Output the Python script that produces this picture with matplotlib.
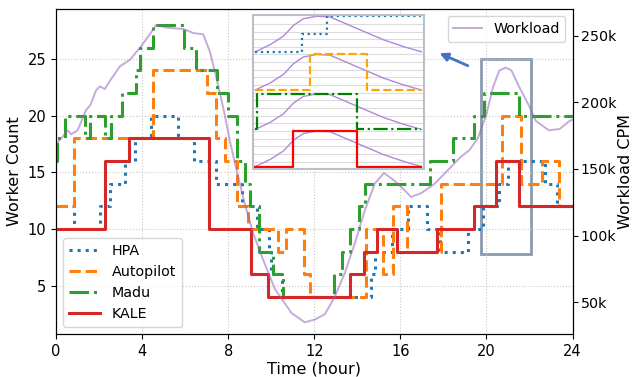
import matplotlib
matplotlib.use("Agg")
import matplotlib.pyplot as plt
import numpy as np
from matplotlib.ticker import FuncFormatter
from matplotlib.patches import Rectangle

# worker counts per method (step changes, hour -> workers)
hpa_t = [0, 0.85, 2.05, 2.5, 3.2, 3.65, 4.4, 5.65, 6.4, 7.45, 8.65, 9.35, 9.9, 10.0, 10.5,
         14.65, 14.8, 15.6, 16.35, 17.25, 17.85, 19.15, 19.85, 20.6, 21.0, 22.7, 23.3, 24]
hpa_v = [12, 10, 12, 14, 16, 18, 20, 18, 16, 14, 12, 10, 8, 6, 4,
         6, 8, 10, 12, 10, 8, 10, 12, 14, 16, 14, 12, 12]

auto_t = [0, 0.85, 4.5, 7.0, 7.45, 7.85, 8.4, 8.93, 10.3, 10.7, 11.5, 11.8, 14.4, 15.2,
          15.65, 16.3, 17.9, 20.7, 21.6, 22.6, 23.35, 24]
auto_v = [12, 18, 24, 22, 18, 16, 12, 10, 8, 10, 6, 4, 10, 6,
          12, 8, 14, 20, 14, 16, 12, 12]

madu_t = [0, 0.05, 0.42, 1.35, 1.6, 2.3, 2.55, 3.05, 3.7, 3.9, 4.5, 5.95, 6.5, 7.5, 7.97,
          8.4, 8.8, 9.0, 9.45, 10.1, 10.55, 12.9, 13.27, 13.65, 14.1, 14.35, 17.4, 18.45,
          19.4, 19.9, 21.5, 24]
madu_v = [16, 18, 20, 18, 20, 18, 20, 22, 24, 26, 28, 26, 24, 22, 20,
          16, 14, 12, 8, 6, 4, 6, 8, 10, 12, 14, 16, 18,
          20, 22, 20, 20]

kale_t = [0, 2.3, 3.4, 7.1, 9.05, 9.85, 13.65, 14.3, 14.9, 15.85, 17.7, 19.4, 20.45, 21.5, 24]
kale_v = [10, 16, 18, 10, 6, 4, 6, 8, 10, 8, 10, 12, 16, 12, 12]

# workload (calls per minute, thousands)
wl_t = [0, 0.3, 0.55, 0.7, 0.85, 1.0, 1.16, 1.39, 1.6, 1.86, 2.04, 2.27, 2.5, 2.97, 3.44,
        3.9, 4.36, 4.65, 5.14, 5.93, 6.37, 6.84, 7.15, 7.46, 7.77, 8.08, 8.39, 8.77, 9.16,
        9.62, 10.17, 10.94, 11.56, 12.02, 12.49, 12.95, 13.42, 13.88, 14.35, 14.81, 15.24,
        15.74, 16.2, 16.5, 16.98, 17.6, 18.2, 18.8, 19.2, 19.6, 20.0, 20.3, 20.6, 20.9,
        21.16, 21.54, 21.93, 22.3, 22.9, 23.4, 23.86, 24]
wl_k = [169, 174, 179, 176, 177.5, 179, 185, 194, 198, 209, 212, 210, 216, 227, 232,
        241, 251, 258, 256, 255, 252, 251, 238, 218, 196, 171, 149, 124, 102,
        82, 60, 42, 35, 37, 41, 54, 72, 94, 119, 139, 147,
        141, 134, 129, 132, 139, 149, 159, 164, 173, 191, 211, 224, 226,
        224, 211, 199, 186, 179, 180, 186, 187]

# inset: normalised zoom of one burst
inset_t = [0, 0.09, 0.17, 0.23, 0.29, 0.37, 0.45, 0.55, 0.67, 0.77, 0.89, 1.0]
inset_load = [0, 0.2, 0.44, 0.74, 0.93, 1.0, 0.98, 0.78, 0.54, 0.34, 0.15, 0]
in_hpa_t, in_hpa_v = [0, 0.28, 0.43, 1], [0, 0.5, 1, 1]
in_auto_t, in_auto_v = [0, 0.33, 0.67, 1], [0, 1, 0, 0]
in_madu_t, in_madu_v = [0, 0.01, 0.61, 1], [0, 1, 0, 0]
in_kale_t, in_kale_v = [0, 0.226, 0.61, 1], [0, 1, 0, 0]

fig = plt.figure(figsize=(6.32, 3.77), dpi=100)
ax = fig.add_axes([0.0886, 0.1133, 0.8173, 0.8628])

ax.step(hpa_t, hpa_v, where='post', color='tab:blue', ls=':', lw=2.2, label='HPA')
ax.step(auto_t, auto_v, where='post', color='tab:orange', ls='--', lw=2.2, label='Autopilot')
ax.step(madu_t, madu_v, where='post', color='tab:green', ls='-.', lw=2.2, label='Madu')
ax.step(kale_t, kale_v, where='post', color='tab:red', ls='-', lw=2.2, label='KALE')

ax.set_xlim(0, 24)
ax.set_ylim(0.7, 29.4)
ax.set_xticks(range(0, 25, 4))
ax.set_yticks([5, 10, 15, 20, 25])
ax.tick_params(labelsize=10.5)
ax.set_xlabel('Time (hour)', fontsize=11.5, labelpad=2)
ax.set_ylabel('Worker Count', fontsize=11.5)
ax.grid(True, ls=':', color='#c8c8c8', lw=0.8)
ax.legend(loc='lower left', fontsize=10.3, handlelength=2.2)

ax.add_patch(Rectangle((19.75, 7.8), 2.3, 17.2, fill=False, ec='#8a9bb0', lw=2))
ax.annotate('', xy=(17.7, 25.6), xytext=(19.25, 24.3),
            arrowprops=dict(arrowstyle='-|>', color='#4472c4', lw=2, mutation_scale=12))

ax2 = ax.twinx()
ax2.plot(wl_t, np.array(wl_k) * 1000, color='tab:purple', alpha=0.55, lw=1.4, label='Workload')
ax2.set_ylim(26000, 270000)
ax2.set_yticks([50000, 100000, 150000, 200000, 250000])
ax2.yaxis.set_major_formatter(FuncFormatter(lambda v, p: f'{int(v / 1000)}k'))
ax2.tick_params(labelsize=10.3, pad=2.5)
ax2.set_ylabel('Workload CPM', fontsize=11.5, labelpad=1)
ax2.legend(loc='upper right', fontsize=10.3)

# inset picture
axi = fig.add_axes([0.3998, 0.551, 0.271, 0.409])
axi.set_xlim(-0.015, 1.015)
axi.set_ylim(0, 4.03)
offsets = [3.07, 2.07, 1.04, 0.07]
amp = 0.93
steps = [(in_hpa_t, in_hpa_v, '#1f77b4', ':'), (in_auto_t, in_auto_v, '#ffa500', '--'),
         (in_madu_t, in_madu_v, '#008000', '-.'), (in_kale_t, in_kale_v, '#ff0000', '-')]
for off, (st, sv, col, ls) in zip(offsets, steps):
    axi.plot(inset_t, off + amp * np.array(inset_load), color='#b088d8', lw=1)
    axi.step(st, off + amp * np.array(sv), where='post', color=col, ls=ls, lw=1.6)
axi.set_yticks(np.arange(0.2, 4.0, 0.2))
axi.set_xticks([])
axi.tick_params(left=False, labelleft=False)
axi.grid(True, axis='y', color='#dcdcdc', lw=0.8)
for s in axi.spines.values():
    s.set_color('#b8c0ca')
    s.set_linewidth(1.5)

fig.savefig('out.png', dpi=100)
